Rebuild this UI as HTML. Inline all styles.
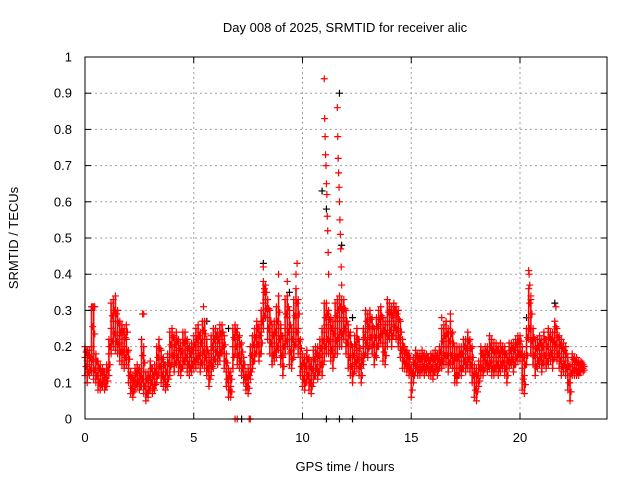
<!DOCTYPE html>
<html><head><meta charset="utf-8"><style>
body{margin:0;background:#fff}
svg text{font-family:"Liberation Sans",sans-serif;font-size:13px;fill:#000}
</style></head><body>
<svg id="chart" width="640" height="480" xmlns="http://www.w3.org/2000/svg">
<rect width="640" height="480" fill="#fff"/>
<text x="345" y="32" text-anchor="middle">Day 008 of 2025, SRMTID for receiver alic</text>
<text transform="translate(18,238) rotate(-90)" text-anchor="middle">SRMTID / TECUs</text>
<text x="345" y="471" text-anchor="middle">GPS time / hours</text>
<g id="grid"></g>
<g id="axes"></g>
<g id="black"></g>
<g id="red"></g>
<rect x="85" y="57" width="522" height="362" fill="none" stroke="#000" stroke-width="1"/>
</svg>
<script>
const xTicks=[0,5,10,15,20];
const yTicks=[0,0.1,0.2,0.3,0.4,0.5,0.6,0.7,0.8,0.9,1];
const yTickLabels=["0","0.1","0.2","0.3","0.4","0.5","0.6","0.7","0.8","0.9","1"];
const redStart=0, redStep=0.1;
const redLo=[.12,.10,.12,.13,.11,.10,.08,.08,.09,.08,
.09,.12,.18,.20,.19,.18,.16,.15,.14,.15,
.10,.07,.06,.08,.09,.08,.09,.07,.05,.06,
.08,.07,.08,.10,.12,.10,.09,.08,.09,.12,
.15,.13,.15,.13,.12,.14,.15,.13,.12,.13,
.14,.14,.15,.13,.15,.14,.12,.09,.12,.14,
.16,.15,.16,.18,.14,.09,.06,.06,.14,.18,
.15,.14,.12,.10,.08,.07,.11,.14,.16,.18,
.16,.18,.25,.28,.22,.18,.15,.16,.17,.19,
.15,.12,.18,.20,.15,.14,.17,.20,.18,.12,
.09,.08,.10,.08,.07,.10,.12,.11,.13,.12,
.16,.18,.18,.16,.14,.18,.18,.20,.20,.22,
.18,.14,.12,.10,.13,.14,.12,.10,.15,.18,
.17,.20,.18,.15,.17,.20,.21,.16,.15,.20,
.22,.20,.23,.22,.20,.17,.14,.14,.13,.12,
.06,.10,.13,.12,.12,.13,.12,.13,.12,.12,
.11,.13,.12,.14,.14,.15,.15,.13,.15,.14,
.10,.10,.12,.12,.14,.13,.14,.13,.10,.06,
.05,.09,.12,.12,.14,.13,.14,.12,.12,.13,
.12,.13,.14,.12,.10,.14,.15,.13,.15,.16,
.16,.08,.07,.15,.22,.18,.15,.12,.14,.15,
.13,.15,.14,.15,.16,.14,.17,.16,.14,.12,
.13,.12,.08,.05,.12,.12,.12,.12,.13,.13];
const redMid=[.17,.16,.15,.20,.16,.14,.12,.11,.12,.10,
.12,.18,.25,.27,.24,.23,.21,.22,.20,.22,
.14,.10,.09,.11,.12,.10,.13,.11,.09,.10,
.12,.10,.11,.14,.17,.14,.13,.11,.13,.17,
.20,.18,.19,.17,.16,.18,.19,.17,.16,.17,
.18,.19,.20,.18,.22,.20,.16,.13,.17,.19,
.21,.20,.21,.22,.18,.13,.10,.09,.20,.22,
.20,.18,.16,.13,.10,.10,.15,.18,.20,.23,
.20,.24,.32,.33,.28,.24,.20,.21,.23,.25,
.20,.17,.25,.28,.22,.19,.24,.28,.25,.17,
.13,.12,.14,.12,.11,.14,.16,.15,.17,.18,
.24,.26,.25,.22,.20,.25,.27,.28,.27,.28,
.24,.20,.17,.15,.18,.19,.17,.14,.20,.24,
.22,.25,.23,.20,.23,.25,.26,.21,.20,.26,
.27,.26,.28,.27,.25,.21,.18,.17,.16,.15,
.10,.14,.16,.15,.15,.16,.15,.16,.15,.16,
.15,.16,.15,.17,.18,.20,.20,.18,.20,.18,
.14,.14,.16,.16,.18,.17,.19,.17,.14,.10,
.10,.12,.16,.15,.17,.16,.17,.16,.16,.17,
.16,.17,.17,.16,.14,.17,.18,.17,.19,.20,
.20,.14,.12,.20,.28,.25,.20,.17,.18,.19,
.18,.20,.18,.20,.20,.19,.24,.20,.18,.17,
.17,.16,.12,.10,.15,.15,.14,.14,.15,.14];
const redHi=[.20,.19,.19,.31,.31,.18,.16,.15,.14,.13,
.15,.22,.32,.33,.34,.30,.27,.26,.25,.26,
.19,.13,.12,.14,.15,.14,.22,.20,.13,.13,
.16,.14,.15,.20,.22,.19,.17,.15,.18,.24,
.25,.23,.24,.22,.21,.24,.24,.22,.20,.21,
.23,.25,.26,.24,.27,.27,.22,.18,.23,.25,
.25,.24,.26,.26,.23,.18,.14,.13,.25,.26,
.25,.23,.21,.17,.13,.14,.20,.23,.25,.27,
.26,.30,.38,.37,.33,.30,.26,.27,.31,.34,
.26,.23,.33,.34,.30,.25,.33,.36,.33,.22,
.18,.17,.19,.17,.16,.19,.20,.20,.22,.25,
.32,.32,.30,.28,.27,.32,.33,.34,.33,.33,
.30,.26,.24,.20,.23,.25,.22,.18,.25,.30,
.29,.30,.28,.25,.28,.30,.31,.28,.27,.33,
.32,.31,.32,.31,.30,.27,.22,.20,.19,.18,
.15,.17,.19,.18,.18,.19,.18,.18,.17,.18,
.18,.19,.18,.20,.25,.26,.27,.25,.27,.24,
.20,.20,.20,.20,.22,.22,.24,.22,.20,.15,
.14,.16,.20,.19,.20,.20,.23,.22,.21,.21,
.20,.21,.20,.20,.18,.21,.21,.21,.22,.23,
.23,.20,.18,.25,.36,.33,.25,.22,.22,.23,
.22,.24,.22,.25,.24,.24,.27,.25,.23,.22,
.21,.20,.17,.15,.18,.17,.17,.16,.16,.15];
const spikeTimes=[0.35,0.45,2.65,2.7,5.45,8.2,8.25,8.9,9.3,9.75,9.7,
11.0,11.02,11.04,11.06,11.08,11.1,11.12,11.14,11.16,11.18,11.2,
11.6,11.62,11.64,11.66,11.68,11.7,11.72,11.74,11.76,11.78,11.8,
20.4,20.42,20.45,20.5,21.65,16.4,16.8];
const spikeValues=[0.31,0.31,0.29,0.29,0.31,0.42,0.36,0.40,0.38,0.43,0.40,
0.94,0.83,0.78,0.73,0.70,0.65,0.62,0.56,0.52,0.46,0.40,
0.86,0.78,0.72,0.68,0.64,0.60,0.55,0.51,0.47,0.42,0.37,
0.41,0.40,0.37,0.34,0.31,0.28,0.29];
const redZeroTimes=[6.9,7.0,7.55,7.6];
const blackTimes=[0.1,0.3,5.6,6.6,8.2,9.4,10.9,11.1,11.7,11.8,12.3,14.1,20.3,21.6,7.2,11.1,11.7,12.3];
const blackValues=[0.19,0.30,0.27,0.25,0.43,0.35,0.63,0.58,0.90,0.48,0.28,0.30,0.28,0.32,0,0,0,0];

const X0=85,X1=607,Y0=419,Y1=57;
const xs=t=>X0+(t/24)*(X1-X0);
const ys=v=>Y0-v*(Y0-Y1);
const NS="http://www.w3.org/2000/svg";
function mk(tag,attrs,parent){const e=document.createElementNS(NS,tag);for(const k in attrs)e.setAttribute(k,attrs[k]);parent.appendChild(e);return e;}
const grid=document.getElementById('grid'),axes=document.getElementById('axes');
xTicks.forEach((t,i)=>{
  const x=xs(t);
  if(t>0){const g=mk('line',{x1:x,x2:x,y1:Y1,y2:Y0,stroke:'#a0a0a0','stroke-dasharray':'2,3'},grid);
  
  }
  const a=mk('line',{x1:x,x2:x,y1:Y0,y2:Y0-6,stroke:'#000'},axes);
  
  
  const b=mk('line',{x1:x,x2:x,y1:Y1,y2:Y1+6,stroke:'#000'},axes);
  
  
  const tx=mk('text',{x:x,y:442,'text-anchor':'middle'},axes);tx.textContent=String(t);
  
  
});
yTicks.forEach((v,i)=>{
  const y=ys(v);
  if(v>0&&v<1){const g=mk('line',{x1:X0,x2:X1,y1:y,y2:y,stroke:'#a0a0a0','stroke-dasharray':'2,3'},grid);
  
  }
  const a=mk('line',{x1:X0,x2:X0+6,y1:y,y2:y,stroke:'#000'},axes);
  
  
  const b=mk('line',{x1:X1,x2:X1-6,y1:y,y2:y,stroke:'#000'},axes);
  
  
  const tx=mk('text',{x:72,y:y+4.5,'text-anchor':'end'},axes);tx.textContent=yTickLabels[i];
  
  
});
function cross(g,t,v,col){
  const x=xs(t),y=ys(v);
  const p=mk('path',{d:`M${x-3.5},${y}H${x+3.5}M${x},${y-3.5}V${y+3.5}`,stroke:col,'stroke-width':1.2,fill:'none'},g);
  
  
}
const bg=document.getElementById('black');
blackTimes.forEach((t,i)=>cross(bg,t,blackValues[i],'#000'));
const rg=document.getElementById('red');
redLo.forEach((lo,i)=>{
  const t=redStart+i*redStep,x=xs(t);
  const l=mk('line',{x1:x,x2:x,y1:ys(lo),y2:ys(redHi[i]),stroke:'#ff0000','stroke-width':1.6},rg);
  
  
  cross(rg,t,lo,'#ff0000');cross(rg,t,redMid[i],'#ff0000');cross(rg,t,redHi[i],'#ff0000');
  cross(rg,t+0.05,(lo+redMid[i])/2,'#ff0000');
  cross(rg,t+0.05,(redMid[i]+redHi[i])/2,'#ff0000');
});
spikeTimes.forEach((t,i)=>cross(rg,t,spikeValues[i],'#ff0000'));
redZeroTimes.forEach(t=>cross(rg,t,0,'#ff0000'));
</script>
</body></html>
